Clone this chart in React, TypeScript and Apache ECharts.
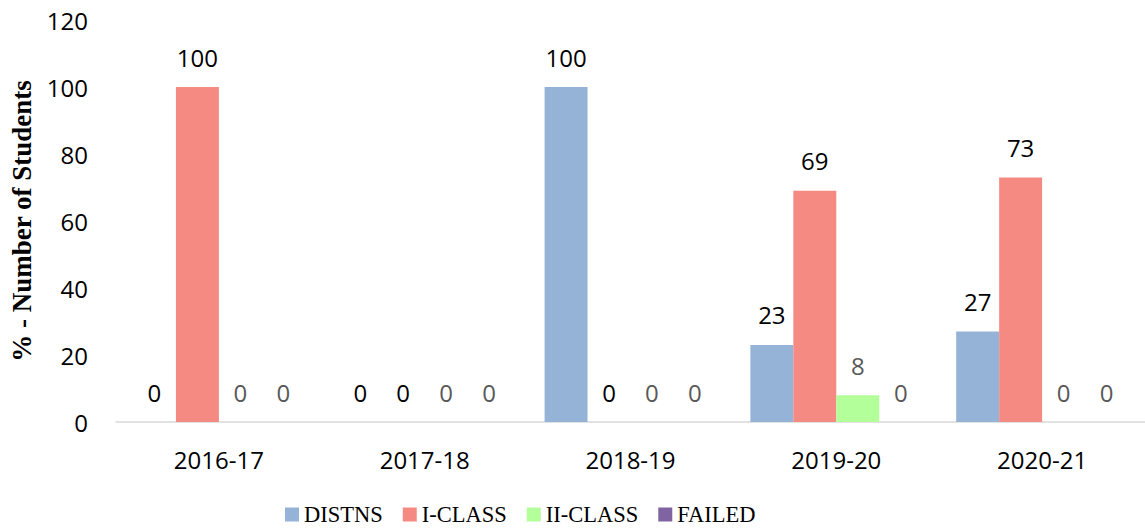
import React, { useEffect, useRef } from "react";
import * as echarts from "echarts";

const categories = ["2016-17", "2017-18", "2018-19", "2019-20", "2020-21"];
const distns = [0, 0, 100, 23, 27];
const iClass = [100, 0, 0, 69, 73];
const iiClass = [0, 0, 0, 8, 0];
const failed = [0, 0, 0, 0, 0];
const seriesNames = ["DISTNS", "I-CLASS", "II-CLASS", "FAILED"];
const colors = ["#95b3d7", "#f58a82", "#b3ff99", "#8064a2"];
const labelColors = ["#000000", "#000000", "#595959", "#595959"];

export default function App() {
  const ref = useRef<HTMLDivElement>(null);
  useEffect(() => {
    if (!ref.current) return;
    const chart = echarts.init(ref.current, null, { renderer: "svg" });
    const data = [distns, iClass, iiClass, failed];
    chart.setOption({
      animation: false,
      backgroundColor: "#ffffff",
      grid: {
        left: 116,
        right: 0,
        top: 20,
        bottom: 109,
        containLabel: false,
        outerBoundsMode: "none",
      },
      legend: {
        left: 280,
        bottom: 0,
        itemWidth: 14,
        itemHeight: 14,
        itemGap: 20,
        icon: "rect",
        textStyle: { fontFamily: "Liberation Serif", fontSize: 22.5, color: "#000" },
        data: seriesNames,
      },
      xAxis: {
        type: "category",
        data: categories,
        axisLine: { lineStyle: { color: "#d9d9d9", width: 1.5 } },
        axisTick: { show: false },
        axisLabel: { fontFamily: "Open Sans", fontSize: 24, color: "#000", margin: 25 },
      },
      yAxis: {
        type: "value",
        min: 0,
        max: 120,
        interval: 20,
        name: "% - Number of Students",
        nameLocation: "middle",
        nameGap: 80,
        nameTextStyle: { fontFamily: "Liberation Serif", fontWeight: "bold", fontSize: 27, color: "#000" },
        axisLine: { show: false },
        axisTick: { show: false },
        splitLine: { show: false },
        axisLabel: { fontFamily: "Open Sans", fontSize: 24, color: "#000", margin: 28 },
      },
      series: seriesNames.map((n, i) => ({
        name: n,
        type: "bar",
        data: data[i],
        barGap: "0%",
        barCategoryGap: "16.5%",
        itemStyle: { color: colors[i] },
        label: {
          show: true,
          position: "top",
          distance: 18,
          fontFamily: "Open Sans",
          fontSize: 24,
          color: labelColors[i],
        },
      })),
    });
    return () => chart.dispose();
  }, []);
  return (
    <div
      ref={ref}
      style={{ position: "fixed", left: 0, top: 0, width: 1145, height: 531 }}
    />
  );
}
